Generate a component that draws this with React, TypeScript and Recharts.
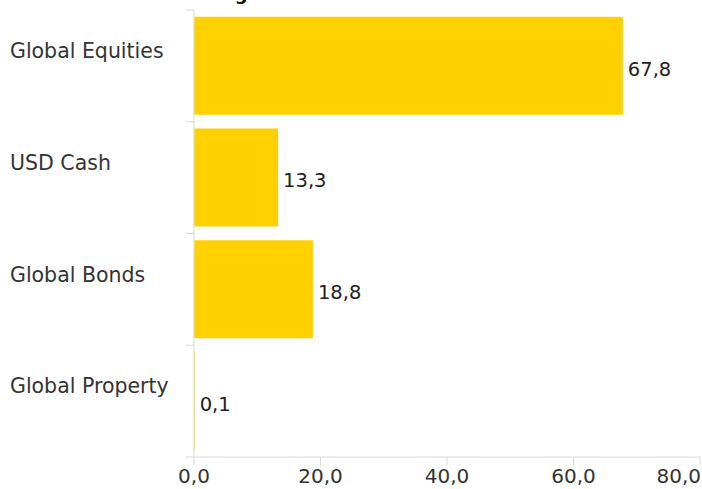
import React from "react";
import { Bar, BarChart, LabelList, XAxis, YAxis } from "recharts";

const categories = ["Global Equities", "USD Cash", "Global Bonds", "Global Property"];
const allocation = [67.8, 13.3, 18.8, 0.1];
const xTicks = [0, 20, 40, 60, 80];

const data = categories.map((name, i) => ({ name, value: allocation[i] }));

const fmt = (v: number) => v.toFixed(1).replace(".", ",");
const FONT = "'DejaVu Sans', sans-serif";
const AXIS = "#d9d9d9";

const CategoryTick = (props: any) => {
  const { y, payload, index } = props;
  const band = 111.75;
  const top = y - band / 2;
  const last = index === categories.length - 1;
  return (
    <g>
      <line x1={186} x2={194} y1={top} y2={top} stroke={AXIS} />
      {last && <line x1={186} x2={194} y1={top + band} y2={top + band} stroke={AXIS} />}
      <text x={10} y={y - 15} dy="0.35em" textAnchor="start" fill="#333" fontSize={20.5} fontFamily={FONT}>
        {payload.value}
      </text>
    </g>
  );
};

const ValueTick = (props: any) => {
  const { x, y, payload, index } = props;
  const last = index === xTicks.length - 1;
  return (
    <text x={last ? x + 1 : x} y={y + 16} textAnchor={last ? "end" : "middle"} fill="#333" fontSize={20} fontFamily={FONT}>
      {fmt(payload.value)}
    </text>
  );
};

export default function App() {
  return (
    <div style={{ position: "absolute", left: 0, top: 0, width: 702, height: 489, overflow: "hidden", background: "#fff" }}>
      <div style={{ position: "absolute", left: 12, top: -17, fontFamily: FONT, fontWeight: "bold", fontSize: 18, color: "#111", whiteSpace: "nowrap" }}>
        Platinum Global Managed Fund - Asset Allocation
      </div>
      <BarChart
        width={702}
        height={489}
        data={data}
        layout="vertical"
        margin={{ top: 10, right: 2, bottom: 0, left: 0 }}
        barCategoryGap="6%"
      >
        <XAxis
          type="number"
          domain={[0, 80]}
          ticks={xTicks}
          height={32}
          stroke={AXIS}
          tickSize={8}
          tick={<ValueTick />}
          interval={0}
        />
        <YAxis
          type="category"
          dataKey="name"
          width={194}
          stroke={AXIS}
          tickLine={false}
          tick={<CategoryTick />}
          interval={0}
        />
        <Bar dataKey="value" fill="#ffd100" isAnimationActive={false}>
          <LabelList dataKey="value" position="right" offset={5} dy={3} formatter={(v: any) => fmt(Number(v))} fill="#222" fontSize={19.5} fontFamily={FONT} />
        </Bar>
      </BarChart>
    </div>
  );
}
